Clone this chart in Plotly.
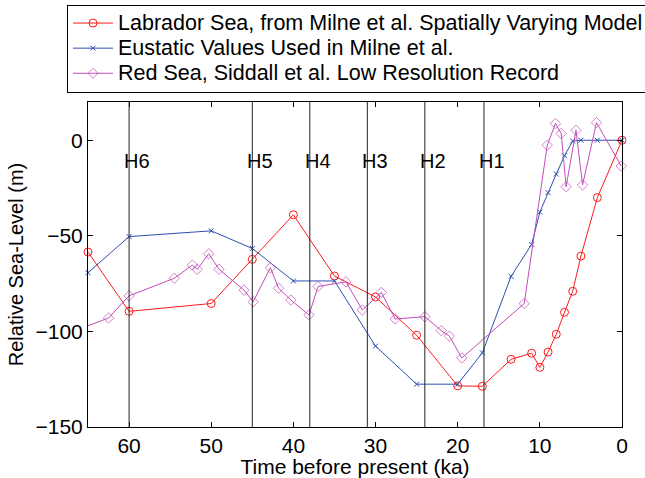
import plotly.graph_objects as go

# ---- data (ka before present, relative sea level in m) ----
lab_x = [65, 60, 50, 45, 40, 35, 30, 25, 20, 17, 13.5, 11, 10, 9, 8, 7, 6, 5, 3, 0]
lab_y = [-58.5, -89.5, -85.4, -62.3, -39, -71, -82, -102, -128.5, -128.7, -114.6, -111.4,
         -118.8, -110.8, -101.5, -90, -79, -60.6, -30, 0]

eus_x = [65, 60, 50, 45, 40, 35, 30, 25, 20, 17, 13.5, 11, 10, 9, 8, 7, 6, 5, 3, 0]
eus_y = [-69.3, -50.4, -47.4, -56.6, -73.6, -73.6, -107.7, -127.6, -127.6, -111.2, -71.2,
         -54.5, -37.6, -27.4, -17.7, -8.1, -0.4, 0, 0, 0]

red_x = [66.5, 62.5, 60, 54.5, 52.3, 51.7, 50.3, 49.05, 46, 44.9, 42.8, 41.8, 40.3, 38.1,
         37, 33.6, 31.6, 29.3, 27.6, 24, 22, 21, 19.5, 11.9, 9.1, 8.1, 7.4, 6.8, 5.6, 4.8,
         3.1, 0.1]
red_y = [-99.5, -93, -81.4, -72.2, -65.3, -67.5, -59.4, -67.5, -78.4, -84.5, -66.7, -77.4,
         -83.6, -91.4, -76.5, -74.1, -88.8, -79.6, -93.5, -92.3, -99.6, -102.5, -113.9,
         -85.4, -2.6, 8.7, 3.5, -24.3, 5.2, -23.4, 9.2, -13.5]

heinrich_x = [60, 45, 38, 31, 24, 16.8]
heinrich_labels = ["H6", "H5", "H4", "H3", "H2", "H1"]
heinrich_label_y = -11

x_ticks = [60, 50, 40, 30, 20, 10, 0]
y_ticks = [-150, -100, -50, 0]

names = ["Labrador Sea, from Milne et al. Spatially Varying Model",
         "Eustatic Values Used in Milne et al.",
         "Red Sea, Siddall et al. Low Resolution Record"]

FONT = "Liberation Sans, Arial, Helvetica, sans-serif"
X_MAX = 65
LEGEND_TEXT_PX = 21.5


def legend_name(s):
    return '<span style="font-size:%.1fpx">%s</span>' % (LEGEND_TEXT_PX, s)


fig = go.Figure()

fig.add_trace(go.Scatter(
    x=lab_x, y=lab_y, mode="lines+markers", name=legend_name(names[0]),
    line=dict(color="#ff1a1a", width=1),
    marker=dict(symbol="circle-open", size=8, color="#ff1a1a", line=dict(width=1)),
    cliponaxis=False))

fig.add_trace(go.Scatter(
    x=eus_x, y=eus_y, mode="lines+markers", name=legend_name(names[1]),
    line=dict(color="#2f4fb0", width=1),
    marker=dict(symbol="x-thin-open", size=5, color="#2f4fb0", line=dict(width=1, color="#2f4fb0")),
    cliponaxis=False))

red_sizes = [0 if v > X_MAX else 8 for v in red_x]
fig.add_trace(go.Scatter(
    x=red_x, y=red_y, mode="lines+markers", name=legend_name(names[2]),
    line=dict(color="#c04db8", width=1),
    marker=dict(symbol="diamond-open", size=red_sizes, color="#c04db8", line=dict(width=1)),
    cliponaxis=False))

for hx, lab in zip(heinrich_x, heinrich_labels):
    fig.add_shape(type="line", x0=hx, x1=hx, y0=0, y1=1, xref="x", yref="paper",
                  line=dict(color="#222222", width=1), layer="above")
    fig.add_annotation(x=hx, y=heinrich_label_y, text=lab, showarrow=False,
                       xanchor="left", yanchor="middle", xshift=-7,
                       font=dict(size=20, color="black", family=FONT))

fig.update_layout(
    width=645, height=478,
    margin=dict(l=88, r=23, t=102, b=51, autoexpand=False),
    paper_bgcolor="white", plot_bgcolor="white",
    font=dict(family=FONT, size=21, color="black"),
    showlegend=True,
    legend=dict(x=-0.0393, y=1.300, xanchor="left", yanchor="top",
                bgcolor="white", bordercolor="black", borderwidth=1,
                font=dict(size=17, family=FONT, color="black"),
                itemwidth=40, tracegroupgap=0),
    xaxis=dict(range=[X_MAX, 0], tickvals=x_ticks, ticks="inside", ticklen=5,
               tickcolor="black", mirror="ticks", showline=True, linecolor="black",
               linewidth=1, showgrid=False, zeroline=False,
               title=dict(text="Time before present (ka)", standoff=2,
                          font=dict(size=21)),
               tickfont=dict(size=21)),
    yaxis=dict(range=[-150, 20], tickvals=y_ticks, ticks="inside", ticklen=5,
               tickcolor="black", mirror="ticks", showline=True, linecolor="black",
               linewidth=1, showgrid=False, zeroline=False,
               title=dict(text="Relative Sea-Level (m)", standoff=6,
                          font=dict(size=20)),
               tickfont=dict(size=21)),
)

fig.write_html("out.html", config={"displayModeBar": False},
               post_script="document.body.style.margin='0';document.body.style.overflow='hidden';")
